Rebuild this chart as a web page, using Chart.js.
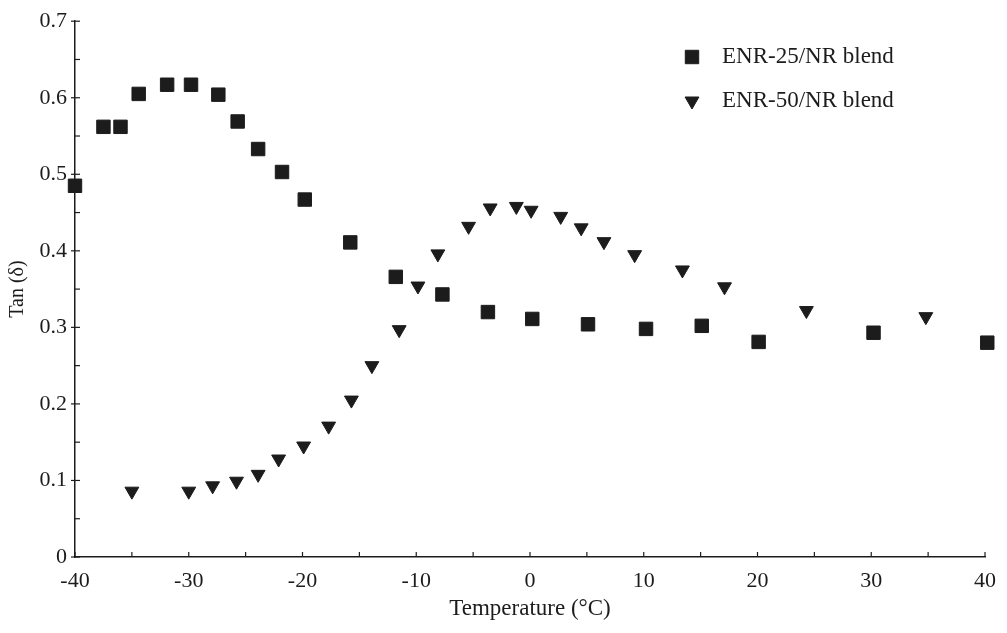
<!DOCTYPE html>
<html>
<head>
<meta charset="utf-8">
<script src="https://cdn.jsdelivr.net/npm/chart.js@4/dist/chart.umd.min.js"></script>
<style>
  html, body { margin: 0; padding: 0; background: #fff; }
  canvas { display: block; }
</style>
</head>
<body>
<canvas id="tanChart" width="1007" height="633"></canvas>
<script>
// values
const enr25Temp = [-40, -37.5, -36, -34.4, -31.9, -29.8, -27.4, -25.7, -23.9, -21.8, -19.8, -15.8, -11.8, -7.7, -3.7, 0.2, 5.1, 10.2, 15.1, 20.1, 30.2, 40.2];
const enr25Tan = [0.485, 0.562, 0.562, 0.605, 0.617, 0.617, 0.604, 0.569, 0.533, 0.503, 0.467, 0.411, 0.366, 0.343, 0.32, 0.311, 0.304, 0.298, 0.302, 0.281, 0.293, 0.28];

const enr50Temp = [-35, -30, -27.9, -25.8, -23.9, -22.1, -19.9, -17.7, -15.7, -13.9, -11.5, -9.85, -8.1, -5.4, -3.5, -1.2, 0.1, 2.7, 4.5, 6.5, 9.2, 13.4, 17.1, 24.3, 34.8];
const enr50Tan = [0.086, 0.086, 0.093, 0.099, 0.108, 0.128, 0.145, 0.171, 0.205, 0.25, 0.297, 0.354, 0.396, 0.432, 0.456, 0.458, 0.453, 0.445, 0.43, 0.412, 0.395, 0.375, 0.353, 0.322, 0.314];

const seriesLabels = ['ENR-25/NR blend', 'ENR-50/NR blend'];
const xTitle = 'Temperature (\u00B0C)';
const yTitle = 'Tan (\u03B4)';

const serif = "'Liberation Serif', 'Times New Roman', serif";
const ink = '#1c1c1c';

function toPoints(xs, ys) {
  return xs.map((x, i) => ({ x: x, y: ys[i] }));
}

// small inward tick marks, like the printed figure
const tickMarks = {
  id: 'tickMarks',
  afterDatasetsDraw(chart) {
    const ctx = chart.ctx;
    const xs = chart.scales.x, ys = chart.scales.y;
    const area = chart.chartArea;
    ctx.save();
    ctx.strokeStyle = ink;
    ctx.lineWidth = 1.2;
    xs.ticks.forEach(t => {
      const px = xs.getPixelForValue(t.value);
      ctx.beginPath();
      ctx.moveTo(px, area.bottom);
      ctx.lineTo(px, area.bottom - 5);
      ctx.stroke();
    });
    ys.ticks.forEach(t => {
      const py = ys.getPixelForValue(t.value);
      const major = Math.round(t.value * 100) % 10 === 0;
      ctx.beginPath();
      ctx.moveTo(area.left - (major ? 4 : 0), py);
      ctx.lineTo(area.left + 5, py);
      ctx.stroke();
    });
    ctx.restore();
  }
};

// legend in the upper right of the plot
const innerLegend = {
  id: 'innerLegend',
  afterDraw(chart) {
    const ctx = chart.ctx;
    const rows = [{ y: 57 }, { y: 101 }];
    ctx.save();
    chart.data.datasets.forEach((ds, i) => {
      const y = rows[i].y;
      ctx.fillStyle = ink;
      ctx.strokeStyle = ink;
      ctx.lineWidth = 1;
      Chart.helpers.drawPoint(ctx, {
        pointStyle: ds.pointStyle,
        radius: ds.pointRadius,
        rotation: ds.pointRotation || 0,
        borderWidth: 1
      }, 692, y);
      ctx.font = '23px ' + serif;
      ctx.textBaseline = 'middle';
      ctx.textAlign = 'left';
      ctx.fillText(ds.label, 722, y);
    });
    ctx.restore();
  }
};

new Chart(document.getElementById('tanChart'), {
  type: 'scatter',
  data: {
    datasets: [{
      label: seriesLabels[0],
      data: toPoints(enr25Temp, enr25Tan),
      pointStyle: 'rect',
      pointRadius: 9.5,
      backgroundColor: ink,
      borderColor: ink,
      borderWidth: 1,
      clip: false
    }, {
      label: seriesLabels[1],
      data: toPoints(enr50Temp, enr50Tan),
      pointStyle: 'triangle',
      pointRotation: 180,
      pointRadius: 8,
      backgroundColor: ink,
      borderColor: ink,
      borderWidth: 1,
      clip: false
    }]
  },
  options: {
    responsive: false,
    animation: false,
    layout: { padding: { top: 19, right: 19, left: 0, bottom: 0 } },
    plugins: {
      legend: { display: false },
      tooltip: { enabled: false }
    },
    scales: {
      x: {
        type: 'linear',
        min: -40,
        max: 40,
        afterFit: s => { s.height = 76; },
        border: { display: true, color: ink, width: 1.5 },
        grid: { display: false, drawTicks: false },
        ticks: {
          stepSize: 5,
          padding: 11,
          color: ink,
          maxRotation: 0,
          autoSkip: false,
          font: { family: serif, size: 22 },
          callback: v => (Math.round(v) % 10 === 0 ? String(Math.round(v)) : '')
        },
        title: {
          display: true,
          text: xTitle,
          color: ink,
          font: { family: serif, size: 23 },
          padding: { top: 0, bottom: 10 }
        }
      },
      y: {
        min: 0,
        max: 0.7,
        afterFit: s => { s.width = 75; },
        border: { display: true, color: ink, width: 1.5 },
        grid: { display: false, drawTicks: false },
        ticks: {
          stepSize: 0.05,
          padding: 8,
          color: ink,
          autoSkip: false,
          font: { family: serif, size: 22 },
          callback: v => {
            const k = Math.round(v * 100);
            if (k % 10 !== 0) return '';
            return k === 0 ? '0' : (k / 100).toFixed(1);
          }
        },
        title: {
          display: true,
          text: yTitle,
          color: ink,
          font: { family: serif, size: 20 },
          padding: { top: 6, bottom: 0 }
        }
      }
    }
  },
  plugins: [tickMarks, innerLegend]
});
</script>
</body>
</html>
